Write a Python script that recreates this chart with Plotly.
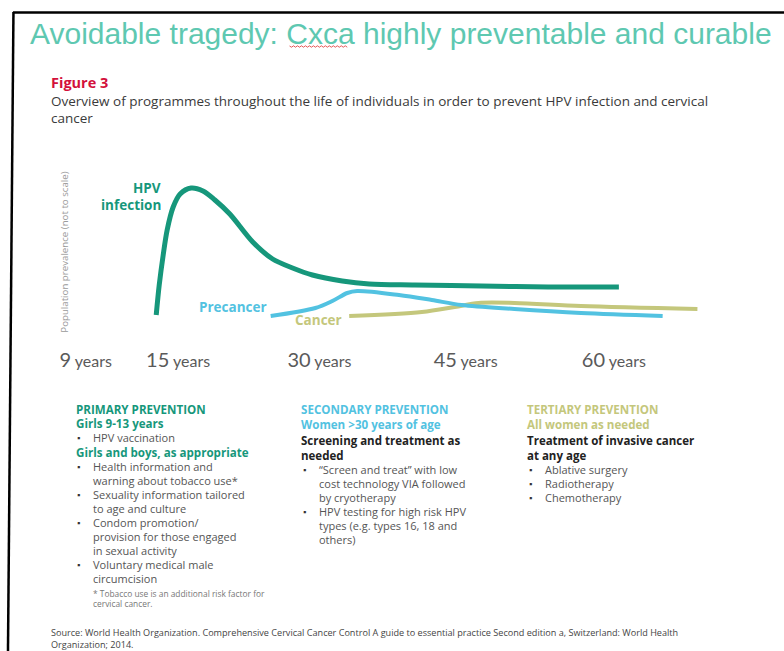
import plotly.graph_objects as go

W, H = 784, 651

# ---------------- data (age in years, relative prevalence, not to scale) -------------
hpv_age = [12.74, 13.05, 13.46, 13.87, 14.49, 15.21, 16.34, 17.57, 18.80, 20.34,
           22.71, 24.76, 26.82, 28.87, 31.95, 34.73, 39.45, 46.34, 53.22, 60.52]
hpv_prev = [15, 45, 75, 100, 123, 136, 142, 139, 130, 116,
            88, 71, 62, 55, 49, 46, 45, 44, 43, 43]

pre_age = [24.56, 29.18, 30.93, 32.47, 33.49, 37.81, 41.20, 44.28, 49.73, 56.61, 65.04]
pre_prev = [14, 22, 29, 37, 39, 35, 30, 25, 21, 17, 14]

can_age = [32.67, 40.17, 43.56, 46.03, 49.73, 56.61, 68.63]
can_prev = [14, 18, 23, 27, 27, 24, 21]

tick_vals = [5.45, 15, 29.6, 44.7, 60]
tick_nums = ["9", "15", "30", "45", "60"]

title_text = "Avoidable tragedy: Cxca highly preventable and curable"
fig_label = "Figure 3"
subtitle_lines = [
    "Overview of programmes throughout the life of individuals in order to prevent HPV infection and cervical",
    "cancer",
]
ylabel = "Population prevalence (not to scale)"

primary_lines = [
    ("h", "PRIMARY PREVENTION"),
    ("h", "Girls 9-13 years"),
    ("b", "HPV vaccination"),
    ("h", "Girls and boys, as appropriate"),
    ("b", "Health information and"),
    ("c", "warning about tobacco use*"),
    ("b", "Sexuality information tailored"),
    ("c", "to age and culture"),
    ("b", "Condom promotion/"),
    ("c", "provision for those engaged"),
    ("c", "in sexual activity"),
    ("b", "Voluntary medical male"),
    ("c", "circumcision"),
]
primary_note = ["* Tobacco use is an additional risk factor for", "cervical cancer."]

secondary_lines = [
    ("h", "SECONDARY PREVENTION"),
    ("h", "Women >30 years of age"),
    ("d", "Screening and treatment as"),
    ("d", "needed"),
    ("b", "\u201cScreen and treat\u201d with low"),
    ("c", "cost technology VIA followed"),
    ("c", "by cryotherapy"),
    ("b", "HPV testing for high risk HPV"),
    ("c", "types (e.g. types 16, 18 and"),
    ("c", "others)"),
]

tertiary_lines = [
    ("h", "TERTIARY PREVENTION"),
    ("h", "All women as needed"),
    ("d", "Treatment of invasive cancer"),
    ("d", "at any age"),
    ("b", "Ablative surgery"),
    ("b", "Radiotherapy"),
    ("b", "Chemotherapy"),
]

source_lines = [
    "Source: World Health Organization. Comprehensive Cervical Cancer Control A guide to essential practice Second edition a, Switzerland: World Health",
    "Organization; 2014.",
]

# ---------------- styling ----------------
TEAL = "#16977b"
BLUE = "#52c2e1"
OLIVE = "#c4c77c"
TITLE_C = "#5ec8b1"
BODY = "Open Sans"
GRAY = "#555555"
DX = -2  # annotation padding compensation


def fx(x):
    return x / W


def fy(y):
    return 1 - y / H


fig = go.Figure()
for ages, vals, col, wd in [
    (can_age, can_prev, OLIVE, 4),
    (pre_age, pre_prev, BLUE, 4),
    (hpv_age, hpv_prev, TEAL, 5),
]:
    fig.add_trace(go.Scatter(x=ages, y=vals, mode="lines", hoverinfo="skip",
                             line=dict(color=col, width=wd, shape="spline", smoothing=0.9)))

# axis mapping: px = 29 + 9.733*age
x0 = (60 - 29) / 9.733
x1 = (720 - 29) / 9.733
ticktext = [f"<span style='font-size:20px'>{n}</span> years" for n in tick_nums]

fig.update_layout(
    width=W, height=H, autosize=False,
    margin=dict(l=0, r=0, t=0, b=0),
    paper_bgcolor="white", plot_bgcolor="white",
    showlegend=False,
    xaxis=dict(domain=[fx(60), fx(720)], range=[x0, x1], showgrid=False, zeroline=False,
               showline=False, ticks="", tickvals=tick_vals, ticktext=ticktext,
               tickfont=dict(family="Lato", size=16, color="#5a5a5a"), ticklabelstandoff=20,
               fixedrange=True),
    yaxis=dict(domain=[fy(330), fy(170)], range=[0, 160], showgrid=False, zeroline=False,
               showline=False, showticklabels=False, ticks="", fixedrange=True),
)

ann = []


def txt(x, y, s, size, color, family=BODY, xanchor="left", bold=False, angle=0):
    if bold:
        s = f"<b>{s}</b>"
    if xanchor == "left":
        x = x + DX
    ann.append(dict(x=fx(x), y=fy(y), xref="paper", yref="paper", text=s, showarrow=False,
                    xanchor=xanchor, yanchor="middle", textangle=angle, borderpad=0,
                    font=dict(family=family, size=size, color=color)))


# title
txt(27, 33, title_text, 30, TITLE_C, family="Liberation Sans")
txt(48, 82, fig_label, 14.5, "#d3103b", bold=True)
for i, s in enumerate(subtitle_lines):
    txt(48, 101 + i * 17, s, 13.5, "#3a3a3a")

# y label
txt(60, 252, ylabel, 9.7, "#9a9a9a", xanchor="center", angle=-90)

# curve labels
txt(159, 188, "HPV", 13.5, TEAL, xanchor="right", bold=True)
txt(159, 205, "infection", 13.5, TEAL, xanchor="right", bold=True)
txt(197, 307, "Precancer", 13.5, BLUE, bold=True)
txt(293, 320, "Cancer", 13.5, OLIVE, bold=True)


def block(x, y0, lines, hcol, bx, tx, step=14):
    y = y0
    for kind, s in lines:
        if kind == "h":
            txt(x, y, s, 11.6, hcol, bold=True)
        elif kind == "d":
            txt(x, y, s, 11.5, "#222222", bold=True)
        elif kind == "b":
            txt(bx, y, "\u25aa", 9, "#333333")
            txt(tx, y, s, 11, GRAY)
        else:
            txt(tx, y, s, 11, GRAY)
        y += step


block(73, 409.5, primary_lines[:3], TEAL, 74, 90)
block(73, 452.5, primary_lines[3:], TEAL, 74, 90)
txt(90, 593, primary_note[0], 8.4, "#777777")
txt(90, 603.5, primary_note[1], 8.4, "#777777")

sec = secondary_lines
txt(300, 409.5, sec[0][1], 11.6, BLUE, bold=True)
txt(300, 424.5, sec[1][1], 11.6, BLUE, bold=True)
block(300, 441, sec[2:], BLUE, 302, 318)

ter = tertiary_lines
txt(527, 409.5, ter[0][1], 11.6, OLIVE, bold=True)
txt(527, 424.5, ter[1][1], 11.6, OLIVE, bold=True)
block(527, 441, ter[2:], OLIVE, 529, 545)

for i, s in enumerate(source_lines):
    txt(48, 632.5 + i * 12, s, 9.1, "#444444")

fig.update_layout(annotations=ann)

# frame lines and spell-check squiggle
shapes = [
    dict(type="line", xref="paper", yref="paper", x0=fx(9), y0=fy(12.5), x1=1, y1=fy(12.5),
         line=dict(color="black", width=2.5)),
    dict(type="line", xref="paper", yref="paper", x0=fx(9.5), y0=fy(12), x1=fx(4), y1=0,
         line=dict(color="black", width=2.5)),
]
zz = "M {} {}".format(fx(287), fy(46))
xx = 287
k = 0
while xx < 345:
    xx += 2
    k += 1
    zz += " L {} {}".format(fx(xx), fy(46 + (1.2 if k % 2 else -0.2)))
shapes.append(dict(type="path", xref="paper", yref="paper", path=zz,
                   line=dict(color="#e03030", width=0.8)))
fig.update_layout(shapes=shapes)

fig.write_html("out.html")
